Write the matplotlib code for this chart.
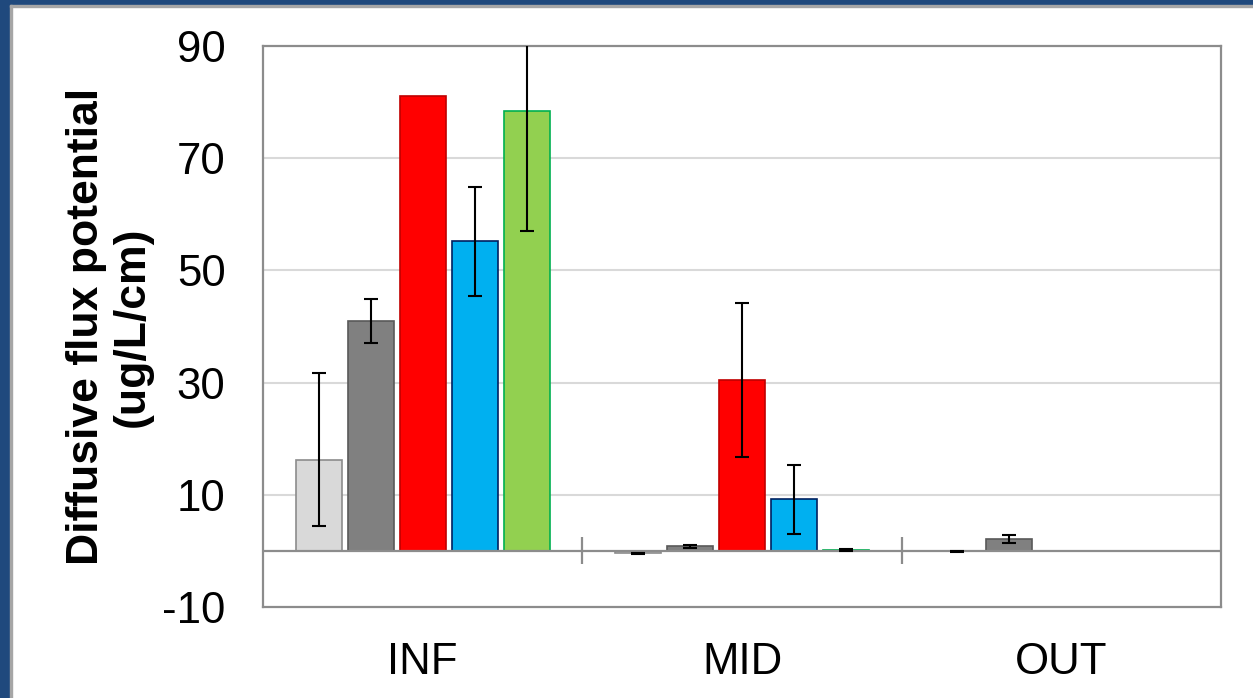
import matplotlib
matplotlib.use("Agg")
import matplotlib.pyplot as plt
from matplotlib.patches import Rectangle
import numpy as np

plt.rcParams['font.family'] = ['Liberation Sans', 'DejaVu Sans']
plt.rcParams['axes.unicode_minus'] = False

categories = ["INF", "MID", "OUT"]
series_names = ["S1", "S2", "S3", "S4", "S5"]
values_s1 = [16.2, -0.3, -0.1]
values_s2 = [41.0, 0.8, 2.1]
values_s3 = [81.1, 30.5, 0.0]
values_s4 = [55.3, 9.3, 0.0]
values_s5 = [78.4, 0.2, 0.0]
err_low_s1 = [11.7, 0.2, 0.05]
err_high_s1 = [15.5, 0.0, 0.0]
err_low_s2 = [3.9, 0.3, 0.7]
err_high_s2 = [3.9, 0.3, 0.7]
err_low_s3 = [0.0, 13.7, 0.0]
err_high_s3 = [0.0, 13.7, 0.0]
err_low_s4 = [9.8, 6.3, 0.0]
err_high_s4 = [9.6, 6.0, 0.0]
err_low_s5 = [21.4, 0.2, 0.0]
err_high_s5 = [21.4, 0.2, 0.0]
y_ticks = [-10, 10, 30, 50, 70, 90]

values = [values_s1, values_s2, values_s3, values_s4, values_s5]
err_low = [err_low_s1, err_low_s2, err_low_s3, err_low_s4, err_low_s5]
err_high = [err_high_s1, err_high_s2, err_high_s3, err_high_s4, err_high_s5]
faces = ["#D9D9D9", "#808080", "#FF0000", "#00B0F0", "#92D050"]
edges = ["#8C8C8C", "#595959", "#C00000", "#002060", "#00B050"]

W, H = 1253, 698
fig = plt.figure(figsize=(W / 100, H / 100), dpi=100)
fig.patch.set_facecolor("white")

# frame: blue band on left and top with thin gray line inside
fig.patches.append(Rectangle((0, 0), 10 / W, 1, transform=fig.transFigure, color="#1F497D", zorder=0))
fig.patches.append(Rectangle((0, 1 - 5 / H), 1, 5 / H, transform=fig.transFigure, color="#1F497D", zorder=0))
fig.patches.append(Rectangle((10 / W, 0), 2 / W, 1 - 5 / H, transform=fig.transFigure, color="#A6A6A6", zorder=0))
fig.patches.append(Rectangle((10 / W, 1 - 7 / H), 1 - 10 / W, 2 / H, transform=fig.transFigure, color="#A6A6A6", zorder=0))

ax = fig.add_axes([263 / W, 1 - 607 / H, (1221 - 263) / W, (607 - 46) / H])

x = np.arange(len(categories))
pitch = 0.163
width = 0.144
for i in range(len(values)):
    v = np.array(values[i])
    lo = np.array(err_low[i])
    hi = np.array(err_high[i])
    pos = x + (i - 2) * pitch
    ax.bar(pos, v, width, color=faces[i], edgecolor=edges[i], linewidth=1.2, zorder=3)
    m = (lo + hi) > 0
    ax.errorbar(pos[m], v[m], yerr=[lo[m], hi[m]], fmt="none", ecolor="black",
                elinewidth=1.5, capsize=5, capthick=1.5, zorder=4)

ax.set_xlim(-0.5, len(categories) - 0.5)
ax.set_ylim(-10, 90)
ax.set_yticks(y_ticks)
ax.set_xticks(x)
ax.set_xticklabels(categories)
ax.tick_params(axis="both", length=0, labelsize=31.5, colors="black")
ax.tick_params(axis="y", pad=27)
ax.tick_params(axis="x", pad=25)

for yv in [10, 30, 50, 70]:
    ax.axhline(yv, color="#D9D9D9", linewidth=1.5, zorder=1)
ax.axhline(0, color="#8C8C8C", linewidth=1.6, zorder=3.5)
ax.vlines([0.5, 1.5], -2.4, 2.4, color="#8C8C8C", linewidth=1.6, zorder=5)

for s in ax.spines.values():
    s.set_color("#8C8C8C")
    s.set_linewidth(1.6)

ax.set_ylabel("Diffusive flux potential\n(ug/L/cm)", fontsize=32, fontweight="bold",
              linespacing=1.15)
ax.yaxis.set_label_coords(-(263 - 153) / (1221 - 263), 0.5)

fig.savefig("out.png", dpi=100)
